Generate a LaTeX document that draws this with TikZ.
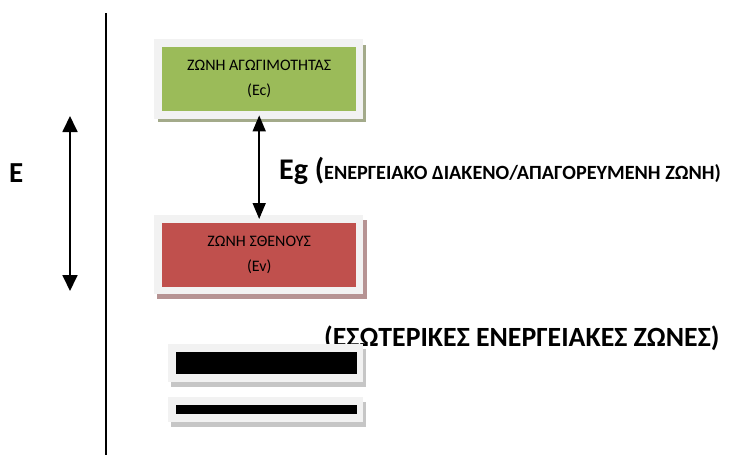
\documentclass[tikz,border=0pt]{standalone}
\usepackage{fontspec}
\setmainfont{Carlito}
\usetikzlibrary{arrows.meta}

\definecolor{bandgreen}{HTML}{9BBB59}
\definecolor{bandred}{HTML}{C0504D}
\definecolor{framegray}{HTML}{F2F2F2}
\definecolor{greenshade}{HTML}{A3AA8A}
\definecolor{redshade}{HTML}{B69393}
\definecolor{barshade}{HTML}{C6C6C6}

\tikzset{
  band/.style={inner sep=0pt, anchor=north west, align=center,
    font=\fontsize{16}{25}\selectfont, text=black},
  bigarrow/.style={line width=1.8pt,
    {Triangle[width=15pt,length=16pt]}-{Triangle[width=15pt,length=16pt]}},
  gaparrow/.style={line width=1.6pt,
    {Triangle[width=13pt,length=16pt]}-{Triangle[width=13pt,length=16pt]}},
}

\begin{document}
\begin{tikzpicture}[x=1pt,y=-1pt]
\useasboundingbox (0,0) rectangle (748,455);

% energy axis
\coordinate (axtop) at (106,13);
\coordinate (axbot) at (106,455);
\draw[line width=2pt] (axtop) -- (axbot);

% energy direction arrow with its label
\coordinate (etop) at (70,116);
\coordinate (ebot) at (70,291);
\draw[bigarrow] (etop) -- (ebot);
\node[anchor=base west, inner sep=0pt, font=\fontsize{29}{29}\selectfont\bfseries] (elabel) at (9,182) {E};

% conduction band
\fill[greenshade] (158,45) rectangle (366,122);
\fill[framegray] (154,39) rectangle (363,119);
\node[band, fill=bandgreen, minimum width=194pt, minimum height=64pt] (cond) at (162,47)
  {ΖΩΝΗ ΑΓΩΓΙΜΟΤΗΤΑΣ\\(Ec)};

% valence band
\fill[redshade] (157,220) rectangle (367,299);
\fill[framegray] (154,215) rectangle (363,294);
\node[band, fill=bandred, minimum width=194pt, minimum height=64pt] (val) at (162,223)
  {ΖΩΝΗ ΣΘΕΝΟΥΣ\\(Ev)};

% band gap
\draw[gaparrow] ([yshift=-4pt]cond.south) -- ([yshift=4pt]val.north);
\node[anchor=base west, inner sep=0pt] (gap) at (279,179)
  {\fontsize{30}{30}\selectfont\bfseries Eg (\fontsize{20.2}{20}\selectfont ΕΝΕΡΓΕΙΑΚΟ ΔΙΑΚΕΝΟ/ΑΠΑΓΟΡΕΥΜΕΝΗ ΖΩΝΗ)};

% inner bands
\node[anchor=base west, inner sep=0pt, font=\fontsize{27.8}{28}\selectfont\bfseries] (inner) at (324,346)
  {(ΕΣΩΤΕΡΙΚΕΣ ΕΝΕΡΓΕΙΑΚΕΣ ΖΩΝΕΣ)};

\fill[barshade] (171,349) rectangle (366,387);
\fill[framegray] (168,344) rectangle (363,382);
\fill[black] (176,352) rectangle (357,374);

\fill[barshade] (171,402) rectangle (366,427);
\fill[framegray] (168,397) rectangle (363,422);
\fill[black] (176,405) rectangle (357,414);
\end{tikzpicture}
\end{document}
